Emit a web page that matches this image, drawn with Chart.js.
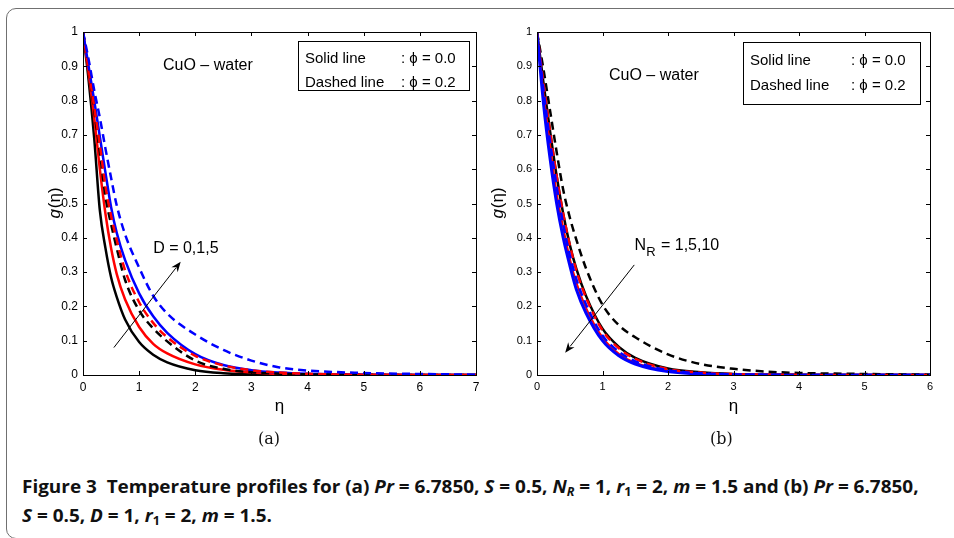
<!DOCTYPE html>
<html>
<head>
<meta charset="utf-8">
<script src="https://cdn.jsdelivr.net/npm/chart.js@4.4.1/dist/chart.umd.min.js"></script>
<style>
  html, body { margin: 0; padding: 0; background: #fff; width: 954px; height: 538px; overflow: hidden; }
  .frame { position: absolute; left: 6px; top: 8px; width: 1100px; height: 529px; border: 1.5px solid #707070; border-radius: 10px; }
  canvas { position: absolute; top: 0; }
  #chartA { left: 0; }
  #chartB { left: 454px; }
  .sub { position: absolute; top: 429px; font-family: "DejaVu Serif", "Liberation Serif", serif; font-size: 16px; color: #111; }
  .caption { position: absolute; left: 22px; font-family: "Open Sans", sans-serif; font-weight: 700; font-size: 18px;
             white-space: nowrap; transform-origin: 0 0; color: #111; line-height: 1; }
  .caption sub { font-size: 12px; vertical-align: -3px; }
</style>
</head>
<body>
<div class="frame"></div>
<canvas id="chartA" width="490" height="430"></canvas>
<canvas id="chartB" width="490" height="430"></canvas>
<div class="sub" style="left:258px">(a)</div>
<div class="sub" style="left:710px">(b)</div>
<div class="caption" id="cap1" style="top:477px">Figure 3&nbsp; Temperature profiles for (a) <i>Pr</i> = 6.7850, <i>S</i> = 0.5, <i>N<sub>R</sub></i> = 1, <i>r</i><sub>1</sub> = 2, <i>m</i> = 1.5 and (b) <i>Pr</i> = 6.7850,</div>
<div class="caption" id="cap2" style="top:506px"><i>S</i> = 0.5, <i>D</i> = 1, <i>r</i><sub>1</sub> = 2, <i>m</i> = 1.5.</div>
<script>
// ---- panel (a): effect of D, eta in [0, 7]
const etaA = [0, 0.1, 0.2, 0.3, 0.4, 0.5, 0.6, 0.75, 1, 1.25, 1.5, 2, 2.5, 3, 3.5, 4, 5, 6, 7];
const aD0Solid  = [1, 0.86, 0.69, 0.48, 0.37, 0.285, 0.228, 0.162, 0.096, 0.059, 0.037, 0.014, 0.005, 0.002, 0.0007, 0.0003, 0, 0, 0];
const aD1Solid  = [1, 0.88, 0.75, 0.60, 0.47, 0.37, 0.295, 0.22, 0.14, 0.091, 0.063, 0.031, 0.015, 0.007, 0.003, 0.0015, 0.0003, 0, 0];
const aD5Solid  = [1, 0.90, 0.80, 0.695, 0.59, 0.49, 0.415, 0.335, 0.238, 0.171, 0.123, 0.061, 0.029, 0.014, 0.007, 0.0035, 0.001, 0.0002, 0];
const aD0Dashed = [1, 0.89, 0.77, 0.65, 0.52, 0.44, 0.37, 0.277, 0.188, 0.136, 0.098, 0.042, 0.018, 0.008, 0.004, 0.002, 0.0006, 0.0001, 0];
const aD1Dashed = [1, 0.89, 0.78, 0.67, 0.55, 0.464, 0.394, 0.305, 0.212, 0.152, 0.11, 0.056, 0.028, 0.014, 0.007, 0.0035, 0.001, 0.0002, 0];
const aD5Dashed = [1, 0.92, 0.83, 0.75, 0.66, 0.575, 0.495, 0.41, 0.313, 0.231, 0.179, 0.118, 0.073, 0.042, 0.022, 0.013, 0.006, 0.003, 0.001];

// ---- panel (b): effect of N_R, eta in [0, 6]
const etaB = [0, 0.1, 0.2, 0.3, 0.4, 0.5, 0.6, 0.75, 1, 1.25, 1.5, 2, 2.5, 3, 3.5, 4, 5, 6];
const bN1Solid   = [1, 0.85, 0.71, 0.58, 0.47, 0.38, 0.31, 0.23, 0.135, 0.082, 0.05, 0.019, 0.008, 0.003, 0.0015, 0.0005, 0, 0];
const bN5Solid   = [1, 0.82, 0.67, 0.53, 0.43, 0.34, 0.27, 0.195, 0.11, 0.062, 0.036, 0.012, 0.004, 0.0015, 0.0005, 0, 0, 0];
const bN10Solid  = [1, 0.79, 0.63, 0.50, 0.40, 0.32, 0.25, 0.18, 0.10, 0.056, 0.032, 0.01, 0.003, 0.001, 0, 0, 0, 0];
const bN1Dashed  = [1, 0.89, 0.77, 0.65, 0.54, 0.46, 0.395, 0.31, 0.205, 0.145, 0.11, 0.06, 0.032, 0.018, 0.01, 0.006, 0.003, 0.001];
const bN5Dashed  = [1, 0.85, 0.71, 0.58, 0.47, 0.38, 0.305, 0.225, 0.13, 0.078, 0.047, 0.017, 0.007, 0.0025, 0.001, 0.0004, 0, 0];
const bN10Dashed = [1, 0.83, 0.68, 0.55, 0.44, 0.35, 0.28, 0.205, 0.115, 0.068, 0.04, 0.014, 0.005, 0.002, 0.001, 0, 0, 0];

// ---- ticks
const yTicks = [0, 0.1, 0.2, 0.3, 0.4, 0.5, 0.6, 0.7, 0.8, 0.9, 1];
const xTicksA = [0, 1, 2, 3, 4, 5, 6, 7];
const xTicksB = [0, 1, 2, 3, 4, 5, 6];

const BLACK = "#000000", RED = "#ff0000", BLUE = "#0000ff";
const DASH = [8, 5];

function series(eta, vals, color, dashed, width) {
  return {
    data: eta.map((e, i) => ({ x: e, y: vals[i] })),
    borderColor: color,
    borderWidth: width || 2.5,
    borderDash: dashed ? DASH : [],
    pointRadius: 0,
    fill: false,
    cubicInterpolationMode: "monotone",
  };
}

// MATLAB-style box with inward ticks, legend box, axis titles and the arrow note
const figureDecor = {
  id: "figureDecor",
  afterDatasetsDraw(chart, args, o) {
    const { ctx, chartArea: a, scales: { x, y } } = chart;
    ctx.save();
    ctx.strokeStyle = "#000";
    ctx.lineWidth = 1;
    ctx.strokeRect(a.left + 0.5, a.top + 0.5, a.right - a.left, a.bottom - a.top);

    ctx.beginPath();
    x.ticks.forEach((t) => {
      const px = Math.round(x.getPixelForValue(t.value)) + 0.5;
      ctx.moveTo(px, a.bottom); ctx.lineTo(px, a.bottom - 4);
      ctx.moveTo(px, a.top); ctx.lineTo(px, a.top + 4);
    });
    y.ticks.forEach((t) => {
      const py = Math.round(y.getPixelForValue(t.value)) + 0.5;
      ctx.moveTo(a.left, py); ctx.lineTo(a.left + 4, py);
      ctx.moveTo(a.right, py); ctx.lineTo(a.right - 4, py);
    });
    ctx.stroke();

    ctx.fillStyle = "#000";
    ctx.textBaseline = "alphabetic";

    // y axis title g(η), g in italics
    ctx.save();
    ctx.translate(o.yTitleX, (a.top + a.bottom) / 2);
    ctx.rotate(-Math.PI / 2);
    ctx.textBaseline = "middle";
    const gFont = "italic 17px 'Liberation Sans', Arial, sans-serif";
    const rFont = "17px 'Liberation Sans', Arial, sans-serif";
    ctx.font = gFont;
    const gw = ctx.measureText("g").width;
    ctx.font = rFont;
    const rw = ctx.measureText("(η)").width;
    ctx.font = gFont;
    ctx.fillText("g", -(gw + rw) / 2, 0);
    ctx.font = rFont;
    ctx.fillText("(η)", -(gw + rw) / 2 + gw + 1, 0);
    ctx.restore();

    // x axis title η
    ctx.font = "17px 'Liberation Sans', Arial, sans-serif";
    ctx.textAlign = "center";
    ctx.fillText("η", (a.left + a.right) / 2, o.xTitleY);
    ctx.textAlign = "left";

    // fluid name
    ctx.font = "16px 'Liberation Sans', Arial, sans-serif";
    ctx.fillText("CuO – water", o.fluid.x, o.fluid.y);

    // legend box
    const b = o.box;
    ctx.fillStyle = "#fff";
    ctx.fillRect(b.x, b.y, b.w, b.h);
    ctx.strokeRect(b.x + 0.5, b.y + 0.5, b.w, b.h);
    ctx.fillStyle = "#000";
    ctx.font = "15px 'Liberation Sans', Arial, sans-serif";
    ctx.fillText("Solid line", b.x + b.pad, b.line1);
    ctx.fillText(": ϕ = 0.0", b.colon, b.line1);
    ctx.fillText("Dashed line", b.x + b.pad, b.line2);
    ctx.fillText(": ϕ = 0.2", b.colon, b.line2);

    // parameter note and arrow
    const n = o.note;
    const nx = x.getPixelForValue(n.x), ny = y.getPixelForValue(n.y);
    ctx.font = "16px 'Liberation Sans', Arial, sans-serif";
    if (n.sub) {
      ctx.fillText(n.main, nx, ny);
      const mw = ctx.measureText(n.main).width;
      ctx.font = "13px 'Liberation Sans', Arial, sans-serif";
      ctx.fillText(n.sub, nx + mw, ny + 6);
      const sw = ctx.measureText(n.sub).width;
      ctx.font = "16px 'Liberation Sans', Arial, sans-serif";
      ctx.fillText(n.rest, nx + mw + sw + 1, ny);
    } else {
      ctx.fillText(n.main, nx, ny);
    }

    const ar = o.arrow;
    const x0 = x.getPixelForValue(ar.from[0]), y0 = y.getPixelForValue(ar.from[1]);
    const x1 = x.getPixelForValue(ar.to[0]), y1 = y.getPixelForValue(ar.to[1]);
    const ang = Math.atan2(y1 - y0, x1 - x0);
    const hl = 10, hw = 4;
    ctx.beginPath();
    ctx.moveTo(x0, y0);
    ctx.lineTo(x1 - Math.cos(ang) * hl * 0.8, y1 - Math.sin(ang) * hl * 0.8);
    ctx.lineWidth = 1;
    ctx.stroke();
    ctx.beginPath();
    ctx.moveTo(x1, y1);
    ctx.lineTo(x1 - Math.cos(ang) * hl + Math.sin(ang) * hw, y1 - Math.sin(ang) * hl - Math.cos(ang) * hw);
    ctx.lineTo(x1 - Math.cos(ang) * hl * 0.7, y1 - Math.sin(ang) * hl * 0.7);
    ctx.lineTo(x1 - Math.cos(ang) * hl - Math.sin(ang) * hw, y1 - Math.sin(ang) * hl + Math.cos(ang) * hw);
    ctx.closePath();
    ctx.fill();
    ctx.restore();
  },
};

function makeChart(id, xMax, xTicks, datasets, decor, tickSize) {
  const tickFont = { family: "'Liberation Sans', Arial, sans-serif", size: tickSize };
  return new Chart(document.getElementById(id), {
    type: "line",
    data: { datasets },
    options: {
      responsive: false,
      animation: false,
      devicePixelRatio: 1,
      events: [],
      layout: { padding: { top: 32, right: 14, left: 0, bottom: 0 } },
      scales: {
        x: {
          type: "linear",
          min: 0,
          max: xMax,
          afterBuildTicks: (s) => { s.ticks = xTicks.map((v) => ({ value: v })); },
          afterFit: (s) => { s.height = 55; },
          grid: { display: false, drawTicks: false },
          border: { display: false },
          ticks: { color: "#000", font: tickFont, padding: 5, maxRotation: 0, autoSkip: false, callback: (v) => String(v) },
        },
        y: {
          type: "linear",
          min: 0,
          max: 1,
          afterBuildTicks: (s) => { s.ticks = yTicks.map((v) => ({ value: v })); },
          afterFit: (s) => { s.width = 83; },
          grid: { display: false, drawTicks: false },
          border: { display: false },
          ticks: { color: "#000", font: tickFont, padding: 5, autoSkip: false, callback: (v) => String(v) },
        },
      },
      plugins: {
        legend: { display: false },
        tooltip: { enabled: false },
        figureDecor: decor,
      },
    },
    plugins: [figureDecor],
  });
}

// later curves are drawn on top, as in the plotting order
function ordered(list) {
  list.forEach((d, i) => { d.order = -i; });
  return list;
}

makeChart("chartA", 7, xTicksA, ordered([
  series(etaA, aD0Solid, BLACK, false),
  series(etaA, aD1Solid, RED, false),
  series(etaA, aD5Solid, BLUE, false),
  series(etaA, aD0Dashed, BLACK, true),
  series(etaA, aD1Dashed, RED, true),
  series(etaA, aD5Dashed, BLUE, true),
]), {
  yTitleX: 55,
  xTitleY: 411,
  fluid: { x: 163, y: 70 },
  box: { x: 298, y: 41, w: 171, h: 49, pad: 7, colon: 401, line1: 63, line2: 87 },
  note: { x: 1.25, y: 0.356, main: "D = 0,1,5" },
  arrow: { from: [0.55, 0.08], to: [1.74, 0.33] },
}, 12);

makeChart("chartB", 6, xTicksB, ordered([
  series(etaB, bN1Solid, BLACK, false),
  series(etaB, bN5Solid, RED, false, 2),
  series(etaB, bN10Solid, BLUE, false, 3),
  series(etaB, bN1Dashed, BLACK, true),
  series(etaB, bN5Dashed, RED, true),
  series(etaB, bN10Dashed, BLUE, true),
]), {
  yTitleX: 44,
  xTitleY: 411,
  fluid: { x: 155, y: 80 },
  box: { x: 289, y: 42, w: 177, h: 62, pad: 7, colon: 397, line1: 65, line2: 90 },
  note: { x: 1.49, y: 0.364, main: "N", sub: "R", rest: " = 1,5,10" },
  arrow: { from: [1.485, 0.321], to: [0.43, 0.065] },
}, 11);

// condense the caption to the column width
const cap1 = document.getElementById("cap1");
const cap2 = document.getElementById("cap2");
const k = 897 / cap1.scrollWidth;
cap1.style.transform = `scaleX(${k})`;
cap2.style.transform = `scaleX(${k})`;
</script>
</body>
</html>
